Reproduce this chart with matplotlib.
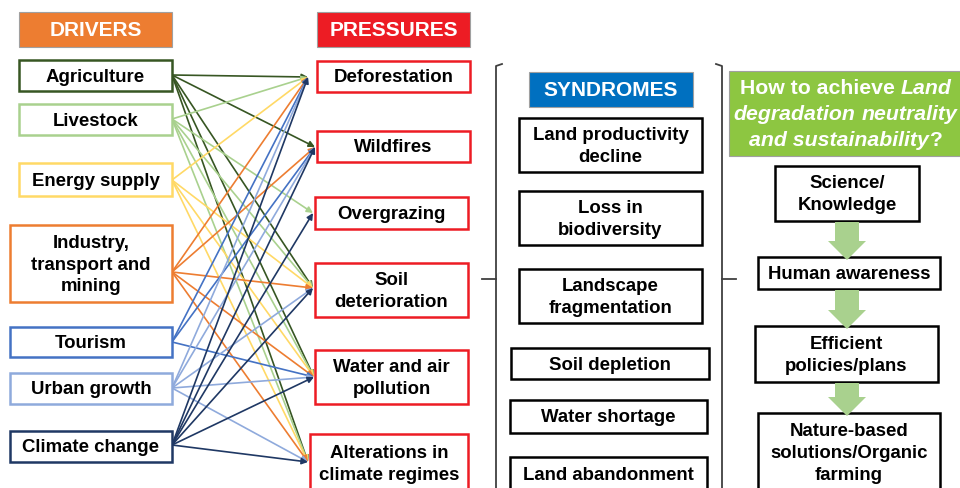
import matplotlib
matplotlib.use('Agg')
import matplotlib.pyplot as plt
from matplotlib.patches import Rectangle, Polygon

plt.rcParams['font.family'] = ['Liberation Sans', 'DejaVu Sans']

# ---------------- content ----------------
headers = ['DRIVERS', 'PRESSURES', 'SYNDROMES']
header_colors = ['#ED7D31', '#ED1C24', '#0070C0']

drivers = ['Agriculture', 'Livestock', 'Energy supply',
           'Industry,\ntransport and\nmining', 'Tourism', 'Urban growth',
           'Climate change']
driver_colors = ['#375623', '#A9D18E', '#FFD966', '#ED7D31',
                 '#4472C4', '#8FAADC', '#1F3864']

pressures = ['Deforestation', 'Wildfires', 'Overgrazing', 'Soil\ndeterioration',
             'Water and air\npollution', 'Alterations in\nclimate regimes']
pressure_color = '#ED1C24'

# driver index -> pressures it points to
links = {
    0: [0, 1, 3, 4, 5],
    1: [0, 2, 3, 4, 5],
    2: [0, 3, 4, 5],
    3: [0, 1, 3, 4, 5],
    4: [0, 1, 4],
    5: [0, 1, 3, 4, 5],
    6: [0, 1, 2, 3, 4, 5],
}

syndromes = ['Land productivity\ndecline', 'Loss in\nbiodiversity',
             'Landscape\nfragmentation', 'Soil depletion', 'Water shortage',
             'Land abandonment']

question_lines = [
    [('How to achieve', 'normal'), ('Land', 'italic')],
    [('degradation', 'italic'), ('neutrality', 'italic')],
    [('and sustainability', 'italic'), ('?', 'normal', 0)],
]
solutions = ['Science/\nKnowledge', 'Human awareness', 'Efficient\npolicies/plans',
             'Nature-based\nsolutions/Organic\nfarming']

# ---------------- layout (pixels, y downward) ----------------
header_boxes = [(19, 12, 172, 47), (317, 12, 470, 47), (529, 72, 693, 107)]
driver_boxes = [(19, 60, 172, 91), (19, 104, 172, 135), (19, 163, 172, 196),
                (10, 225, 172, 302), (10, 327, 172, 357), (10, 373, 172, 404),
                (10, 431, 172, 462)]
driver_anchor_y = [75, 119, 180, 272, 342, 388, 445]
pressure_boxes = [(317, 61, 470, 92), (317, 131, 470, 162), (315, 197, 468, 229),
                  (315, 263, 468, 317), (315, 350, 468, 404), (310, 434, 468, 492)]
pressure_anchor = [(308, 77), (315, 147), (313, 213), (313, 288), (314, 377), (308, 462)]
syndrome_boxes = [(519, 118, 702, 172), (519, 191, 702, 245), (519, 269, 702, 323),
                  (511, 348, 709, 379), (510, 400, 707, 433), (510, 457, 707, 490)]
question_box = (729, 71, 975, 156)
question_y = [88, 114, 140]
solution_boxes = [(775, 166, 919, 221), (758, 257, 940, 289), (755, 326, 938, 382),
                  (758, 413, 940, 495)]
solution_text_y = [193, 273, 354, 452]

FS = 13.4
DY = 1.5
W, H = 960, 488
fig = plt.figure(figsize=(9.6, 4.88), dpi=100)
ax = fig.add_axes([0, 0, 1, 1])
ax.set_xlim(0, W)
ax.set_ylim(H, 0)
ax.axis('off')


def box(b, ec, fc='white', lw=1.6, z=3):
    x0, y0, x1, y1 = b
    ax.add_patch(Rectangle((x0, y0), x1 - x0, y1 - y0, facecolor=fc,
                           edgecolor=ec, lw=lw, zorder=z))


def label(b, s, color='black', fs=FS, y=None):
    x0, y0, x1, y1 = b
    yc = (y0 + y1) / 2 if y is None else y
    ax.text((x0 + x1) / 2, yc + DY, s, ha='center', va='center', fontsize=fs,
            fontweight='bold', color=color, linespacing=1.38, zorder=5)


# connection lines
for di, targets in links.items():
    sx, sy = driver_boxes[di][2], driver_anchor_y[di]
    for pi in targets:
        ex, ey = pressure_anchor[pi]
        ax.annotate('', xy=(ex, ey), xytext=(sx, sy),
                    arrowprops=dict(arrowstyle='-|>', color=driver_colors[di],
                                    lw=1.2, mutation_scale=9,
                                    shrinkA=0, shrinkB=0), zorder=2)

# headers
for b, s, c in zip(header_boxes, headers, header_colors):
    box(b, ec='#A0A0A0', fc=c, lw=0.8)
    label(b, s, color='white', fs=15)

for b, s, c in zip(driver_boxes, drivers, driver_colors):
    box(b, ec=c, lw=1.8)
    label(b, s)

for b, s in zip(pressure_boxes, pressures):
    box(b, ec=pressure_color, lw=1.8)
    label(b, s)

for b, s in zip(syndrome_boxes, syndromes):
    box(b, ec='black', lw=1.8)
    label(b, s)

# brackets around syndromes
bc = '#404040'
ax.plot([502, 496, 496], [64, 66, 495], color=bc, lw=1.3, zorder=2)
ax.plot([482, 496], [279, 279], color=bc, lw=1.3, zorder=2)
ax.plot([716, 722, 722], [64, 66, 495], color=bc, lw=1.3, zorder=2)
ax.plot([722, 736], [279, 279], color=bc, lw=1.3, zorder=2)

# question header with mixed styles
box(question_box, ec='#A0A0A0', fc='#8DC641', lw=0.8)
renderer = fig.canvas.get_renderer()
qx = (729 + 960) / 2 + 1
space = 0.278 * 15.3 * 100 / 72
for segs, yy in zip(question_lines, question_y):
    texts, widths = [], []
    for seg in segs:
        t = ax.text(0, yy, seg[0], ha='left', va='center', fontsize=15.3,
                    fontweight='bold', fontstyle=seg[1], color='white', zorder=5)
        bb = t.get_window_extent(renderer)
        texts.append(t)
        widths.append(bb.width)
    gaps = [space if (len(s) < 3 or s[2]) else 0 for s in segs[1:]]
    total = sum(widths) + sum(gaps)
    x = qx - total / 2
    for i, t in enumerate(texts):
        t.set_x(x)
        x += widths[i] + (gaps[i] if i < len(gaps) else 0)

for b, s, ty in zip(solution_boxes, solutions, solution_text_y):
    box(b, ec='black', lw=1.8)
    label(b, s, y=ty)

# green block arrows between solution boxes
ac = '#A9D18E'
cx = 847
for (a, bb) in zip(solution_boxes[:-1], solution_boxes[1:]):
    top, tip = a[3] + 1, bb[1] + 3
    neck = tip - 19
    poly = [(cx - 12, top), (cx + 12, top), (cx + 12, neck), (cx + 19, neck),
            (cx, tip), (cx - 19, neck), (cx - 12, neck)]
    ax.add_patch(Polygon(poly, closed=True, facecolor=ac, edgecolor='none', zorder=4))

fig.savefig('out.png', dpi=100)
